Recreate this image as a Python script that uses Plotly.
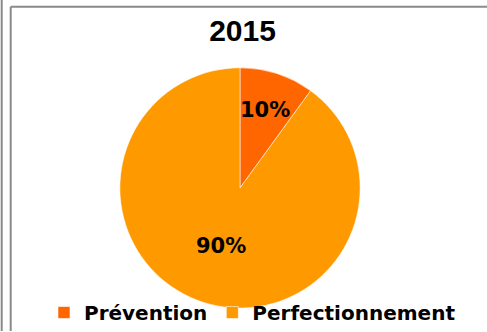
import math
import plotly.graph_objects as go

# Share of training budget, 2015
categories = ["Prévention", "Perfectionnement"]
values = [10, 90]
colors = ["#FF6600", "#FF9900"]
title_text = "2015"

W, H = 487, 332
# pie geometry in pixels
cx, cy, R = 240.0, 188.5, 120.5
# radial position of each percentage label, as a fraction of the radius
label_radius = [0.68, 0.51]

fig = go.Figure(
    go.Pie(
        labels=categories,
        values=values,
        sort=False,
        direction="clockwise",
        rotation=0,
        marker=dict(colors=colors, line=dict(color="rgba(255,255,255,0.55)", width=1)),
        textinfo="none",
        domain=dict(x=[(cx - R) / W, (cx + R) / W],
                    y=[(H - cy - R) / H, (H - cy + R) / H]),
        hoverinfo="label+percent",
    )
)

# percentage labels placed on each slice's mid-angle (clockwise from 12 o'clock)
total = sum(values)
annotations = []
start = 0.0
for v, rf in zip(values, label_radius):
    mid = (start + v / 2) / total * 2 * math.pi
    px = cx + rf * R * math.sin(mid)
    py = cy - rf * R * math.cos(mid)
    annotations.append(dict(
        text=f"{round(v / total * 100)}%",
        x=px / W, y=(H - py) / H, xref="paper", yref="paper",
        xanchor="center", yanchor="middle", showarrow=False,
        font=dict(family="DejaVu Sans", size=21, color="#000000", weight="bold"),
    ))
    start += v

# frame lines around the chart area
line_style = dict(color="#8a8a8a", width=2)
shapes = [
    dict(type="line", xref="paper", yref="paper", x0=1.7 / W, x1=1.7 / W, y0=0, y1=1, line=line_style),
    dict(type="line", xref="paper", yref="paper", x0=10.7 / W, x1=10.7 / W, y0=0, y1=1 - 6.7 / H, line=line_style),
    dict(type="line", xref="paper", yref="paper", x0=10.7 / W, x1=1, y0=1 - 6.7 / H, y1=1 - 6.7 / H, line=line_style),
]

fig.update_layout(
    width=W,
    height=H,
    margin=dict(l=0, r=0, t=0, b=0),
    paper_bgcolor="white",
    plot_bgcolor="white",
    shapes=shapes,
    annotations=annotations,
    title=dict(
        text=title_text,
        x=242.5 / W, xanchor="center",
        y=1 - 30 / H, yanchor="middle",
        font=dict(family="Liberation Sans", size=30, color="#000000", weight="bold"),
    ),
    legend=dict(
        orientation="h",
        x=44 / W, xanchor="left",
        y=(H - 313) / H, yanchor="middle",
        font=dict(family="DejaVu Sans", size=20, color="#000000", weight="bold"),
        bgcolor="rgba(0,0,0,0)",
        traceorder="normal",
    ),
)

fig.write_html("out.html")
